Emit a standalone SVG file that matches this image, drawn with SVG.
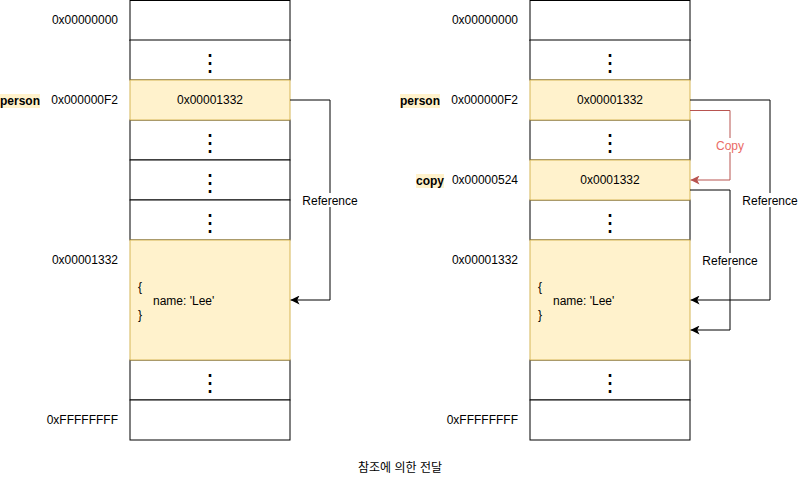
<svg xmlns="http://www.w3.org/2000/svg" width="798" height="481" viewBox="0 0 798 481">
<style>
text{font-family:"Liberation Sans",Arial,sans-serif;font-size:12px;fill:#000}
.cell{fill:#fff;stroke:#000;stroke-width:1}
.hl{fill:#fff2cc;stroke:#d6b656;stroke-width:1}
.addr{text-anchor:end}
.mid{text-anchor:middle}
.dot{text-anchor:middle;font-family:"DejaVu Sans",sans-serif;font-size:24px}
.var{font-weight:bold;text-anchor:end}
.vbg{fill:#fff2cc}
.edge{fill:none;stroke:#000;stroke-width:1}
.red{fill:none;stroke:#b85450;stroke-width:1}
.lbl{fill:#fff}
.cap{font-family:"Liberation Sans","Noto Sans CJK KR",sans-serif;font-size:12px}
</style>
<defs>
<marker id="ab" viewBox="0 0 10 10" refX="10" refY="5" markerWidth="9" markerHeight="9" markerUnits="userSpaceOnUse" orient="auto">
<path d="M0,0 L10,5 L0,10 L2.5,5 Z" fill="#000"/>
</marker>
<marker id="ar" viewBox="0 0 10 10" refX="10" refY="5" markerWidth="9" markerHeight="9" markerUnits="userSpaceOnUse" orient="auto">
<path d="M0,0 L10,5 L0,10 L2.5,5 Z" fill="#b85450"/>
</marker>
</defs>

<g id="left-memory">
<rect class="cell" x="130" y="0.5" width="160" height="40"/>
<rect class="cell" x="130" y="40" width="160" height="40"/>
<rect class="cell" x="130" y="120" width="160" height="40"/>
<rect class="cell" x="130" y="160" width="160" height="40"/>
<rect class="cell" x="130" y="200" width="160" height="40"/>
<rect class="cell" x="130" y="360" width="160" height="40"/>
<rect class="cell" x="130" y="400" width="160" height="40"/>
<g id="left-person-cell"><rect class="hl" x="130" y="80" width="160" height="40"/><text class="mid" x="210" y="104">0x00001332</text></g>
<g id="left-object-cell"><rect class="hl" x="130" y="240" width="160" height="120"/>
<text x="138" y="291">{</text><text x="153" y="305">name: 'Lee'</text><text x="138" y="319">}</text></g>
<text class="dot" x="210" y="71">⋮</text>
<text class="dot" x="210" y="151">⋮</text>
<text class="dot" x="210" y="191">⋮</text>
<text class="dot" x="210" y="231">⋮</text>
<text class="dot" x="210" y="391">⋮</text>
<text class="addr" x="118" y="24">0x00000000</text>
<text class="addr" x="118" y="104">0x000000F2</text>
<text class="addr" x="118" y="264">0x00001332</text>
<text class="addr" x="118" y="424">0xFFFFFFFF</text>
<g id="left-person-var"><rect class="vbg" x="0" y="94" width="40" height="14"/><text class="var" x="40" y="105">person</text></g>
</g>

<g id="right-memory">
<rect class="cell" x="530" y="0.5" width="160" height="40"/>
<rect class="cell" x="530" y="40" width="160" height="40"/>
<rect class="cell" x="530" y="120" width="160" height="40"/>
<rect class="cell" x="530" y="200" width="160" height="40"/>
<rect class="cell" x="530" y="360" width="160" height="40"/>
<rect class="cell" x="530" y="400" width="160" height="40"/>
<g id="right-person-cell"><rect class="hl" x="530" y="80" width="160" height="40"/><text class="mid" x="610" y="104">0x00001332</text></g>
<g id="right-copy-cell"><rect class="hl" x="530" y="160" width="160" height="40"/><text class="mid" x="610" y="184">0x0001332</text></g>
<g id="right-object-cell"><rect class="hl" x="530" y="240" width="160" height="120"/>
<text x="538" y="291">{</text><text x="553" y="305">name: 'Lee'</text><text x="538" y="319">}</text></g>
<text class="dot" x="610" y="71">⋮</text>
<text class="dot" x="610" y="151">⋮</text>
<text class="dot" x="610" y="231">⋮</text>
<text class="dot" x="610" y="391">⋮</text>
<text class="addr" x="518" y="24">0x00000000</text>
<text class="addr" x="518" y="104">0x000000F2</text>
<text class="addr" x="518" y="184">0x00000524</text>
<text class="addr" x="518" y="264">0x00001332</text>
<text class="addr" x="518" y="424">0xFFFFFFFF</text>
<g id="right-person-var"><rect class="vbg" x="400" y="94" width="40" height="14"/><text class="var" x="440" y="105">person</text></g>
<g id="right-copy-var"><rect class="vbg" x="416" y="174" width="28" height="14"/><text class="var" x="444" y="185">copy</text></g>
</g>

<g id="connectors">
<path class="edge" d="M290,100 H330 V300 H290.5" marker-end="url(#ab)"/>
<rect class="lbl" x="302" y="193" width="56" height="14"/>
<text class="mid" x="330" y="205">Reference</text>

<path class="edge" d="M690,100 H770 V300 H690.5" marker-end="url(#ab)"/>
<rect class="lbl" x="742" y="193" width="56" height="14"/>
<text class="mid" x="770" y="205">Reference</text>

<path class="red" d="M690,110.5 H730 V180 H690.5" marker-end="url(#ar)"/>
<rect class="lbl" x="715" y="138" width="30" height="14"/>
<text class="mid" x="730" y="150" style="fill:#ea6b66">Copy</text>

<path class="edge" d="M690,190 H730 V330 H690.5" marker-end="url(#ab)"/>
<rect class="lbl" x="702" y="253" width="56" height="14"/>
<text class="mid" x="730" y="265">Reference</text>
</g>

<text class="cap mid" x="400" y="472">참조에 의한 전달</text>
</svg>
